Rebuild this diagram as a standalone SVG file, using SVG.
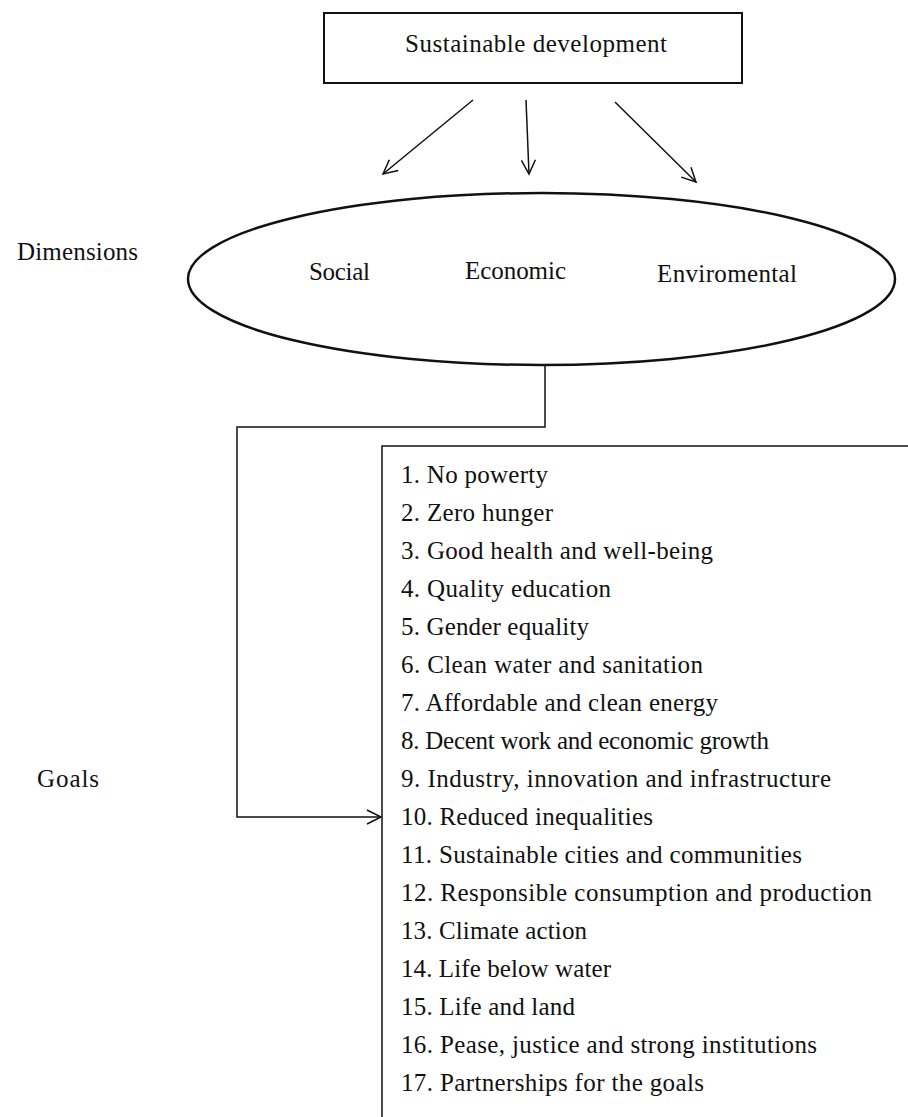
<svg xmlns="http://www.w3.org/2000/svg" width="908" height="1117" viewBox="0 0 908 1117">
<style>
text{font-family:"Liberation Serif","Times New Roman",serif;font-size:25px;fill:#111}
.box{fill:#fff;stroke:#111;stroke-width:2}
.conn{fill:none;stroke:#111;stroke-width:1.5}
</style>
<defs>
<marker id="ah" markerWidth="18" markerHeight="18" refX="15" refY="8" orient="auto" markerUnits="userSpaceOnUse">
<path d="M1,1 L15,8 L1,15" fill="none" stroke="#111" stroke-width="1.5"/>
</marker>
</defs>
<rect width="908" height="1117" fill="#fff"/>
<g id="sustainable-development">
<rect class="box" x="324" y="13" width="418" height="70"/>
<text x="405" y="52" textLength="262">Sustainable development</text>
</g>
<g id="dimensions-label"><text x="17" y="260" textLength="121">Dimensions</text></g>
<g id="dimensions">
<ellipse cx="541.5" cy="279" rx="353.5" ry="86" fill="#fff" stroke="#111" stroke-width="2.5"/>
<text x="309" y="280" textLength="61">Social</text>
<text x="465" y="279" textLength="101">Economic</text>
<text x="657" y="282" textLength="140">Enviromental</text>
</g>
<g id="goals-label"><text x="37" y="787" textLength="62">Goals</text></g>
<g id="goals">
<rect x="382" y="446" width="600" height="700" fill="#fff" stroke="#111" stroke-width="1.5"/>
<text x="401" y="483" textLength="147">1. No powerty</text>
<text x="401" y="521" textLength="152">2. Zero hunger</text>
<text x="401" y="559" textLength="312">3. Good health and well-being</text>
<text x="401" y="597" textLength="210">4. Quality education</text>
<text x="401" y="635" textLength="188">5. Gender equality</text>
<text x="401" y="673" textLength="302">6. Clean water and sanitation</text>
<text x="401" y="711" textLength="317">7. Affordable and clean energy</text>
<text x="401" y="749" textLength="368">8. Decent work and economic growth</text>
<text x="401" y="787" textLength="430">9. Industry, innovation and infrastructure</text>
<text x="401" y="825" textLength="252">10. Reduced inequalities</text>
<text x="401" y="863" textLength="401">11. Sustainable cities and communities</text>
<text x="401" y="901" textLength="471">12. Responsible consumption and production</text>
<text x="401" y="939" textLength="186">13. Climate action</text>
<text x="401" y="977" textLength="210">14. Life below water</text>
<text x="401" y="1015" textLength="174">15. Life and land</text>
<text x="401" y="1053" textLength="416">16. Pease, justice and strong institutions</text>
<text x="401" y="1091" textLength="303">17. Partnerships for the goals</text>
</g>
<g id="connectors">
<line class="conn" x1="473" y1="100" x2="383" y2="174" marker-end="url(#ah)"/>
<line class="conn" x1="526" y1="100" x2="529" y2="174" marker-end="url(#ah)"/>
<line class="conn" x1="615" y1="102" x2="696" y2="182" marker-end="url(#ah)"/>
<path class="conn" d="M545,365 V427 H237 V817 H381" marker-end="url(#ah)"/>
</g>
</svg>
